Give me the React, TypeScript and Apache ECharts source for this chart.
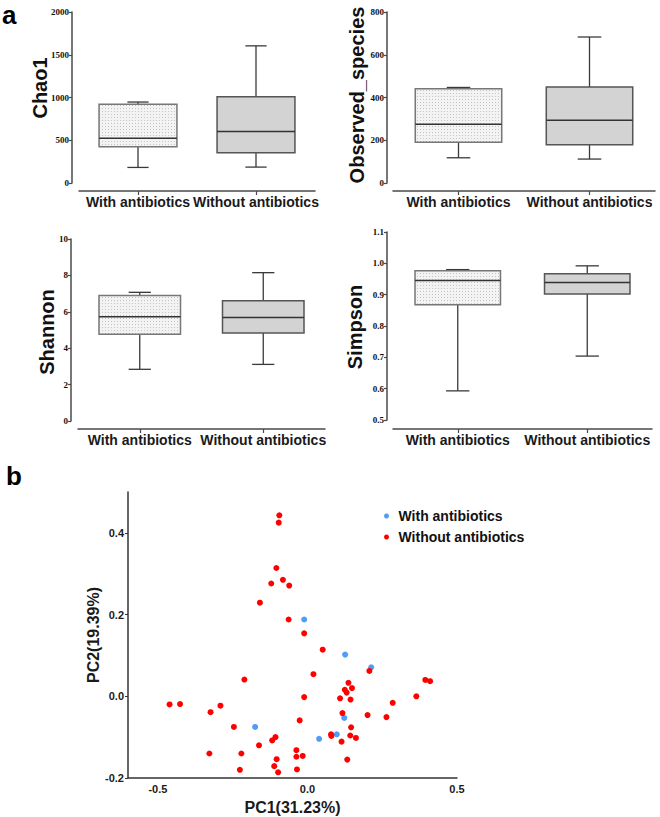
import React, { useEffect, useRef } from 'react';
import * as echarts from 'echarts';

const CATEGORIES = ['With antibiotics', 'Without antibiotics'];

// box statistics: [min, Q1, median, Q3, max]
const CHAO1_WITH = [182, 423, 524, 920, 947];
const CHAO1_WITHOUT = [186, 353, 602, 1010, 1604];
const OBS_WITH = [118, 191, 275, 441, 447];
const OBS_WITHOUT = [112, 179, 293, 449, 683];
const SHANNON_WITH = [2.84, 4.76, 5.73, 6.9, 7.07];
const SHANNON_WITHOUT = [3.11, 4.84, 5.68, 6.61, 8.15];
const SIMPSON_WITH = [0.593, 0.868, 0.945, 0.976, 0.98];
const SIMPSON_WITHOUT = [0.704, 0.902, 0.939, 0.967, 0.992];

const CHAO1_AXIS = [0, 2000, 500];
const OBS_AXIS = [0, 800, 200];
const SHANNON_AXIS = [0, 10, 2];
const SIMPSON_AXIS = [0.5, 1.1, 0.1];

// PCoA points [PC1, PC2]
const PCOA_WITH = [
  [-0.011, 0.188], [0.126, 0.102], [0.213, 0.071], [0.123, -0.053],
  [-0.175, -0.075], [0.039, -0.104], [0.098, -0.093],
];
const PCOA_WITHOUT = [
  [-0.094, 0.443], [-0.096, 0.425], [-0.104, 0.314], [-0.121, 0.276], [-0.082, 0.285],
  [-0.061, 0.271], [-0.159, 0.229], [-0.063, 0.188], [-0.011, 0.154], [0.051, 0.114],
  [0.207, 0.062], [0.02, 0.054], [-0.211, 0.041], [0.394, 0.04], [0.41, 0.037],
  [0.137, 0.033], [0.125, 0.016], [0.149, 0.02], [0.131, 0.009], [0.364, 0.0],
  [-0.011, -0.002], [0.109, -0.005], [0.144, -0.008], [0.285, -0.016], [-0.461, -0.02],
  [-0.426, -0.019], [-0.291, -0.023], [-0.324, -0.039], [0.117, -0.041], [0.201, -0.046],
  [0.264, -0.051], [-0.026, -0.059], [-0.246, -0.075], [0.146, -0.076], [0.079, -0.093],
  [0.08, -0.097], [0.143, -0.096], [0.162, -0.102], [-0.107, -0.1], [-0.118, -0.108],
  [0.114, -0.111], [-0.162, -0.12], [-0.037, -0.132], [-0.328, -0.14], [-0.221, -0.14],
  [-0.037, -0.148], [-0.016, -0.146], [-0.103, -0.154], [0.133, -0.155], [-0.111, -0.171],
  [-0.226, -0.18], [-0.035, -0.179], [-0.098, -0.186],
];
const PC1_TICKS = [-0.5, 0, 0.5];
const PC2_TICKS = [-0.2, 0, 0.2, 0.4];
const PC1_RANGE = [-0.6, 0.5];
const PC2_RANGE = [-0.2, 0.5];

const SANS = '"Liberation Sans", Arial, sans-serif';
const SERIF = '"Liberation Serif", "Times New Roman", serif';

export default function App() {
  const ref = useRef<HTMLDivElement>(null);

  useEffect(() => {
    if (!ref.current) return;
    const chart = echarts.init(ref.current, undefined, { renderer: 'svg' });

    const cv = document.createElement('canvas');
    cv.width = 3;
    cv.height = 3;
    const ctx = cv.getContext('2d');
    if (ctx) {
      ctx.fillStyle = '#f3f3f3';
      ctx.fillRect(0, 0, 3, 3);
      ctx.fillStyle = '#c4c4c4';
      ctx.fillRect(0, 0, 1, 1);
    }
    const patternFill: any = { image: cv, repeat: 'repeat', imageWidth: 3, imageHeight: 3 };

    const renderBox = (params: any, api: any) => {
      const ci = api.value(0);
      const v = [api.value(1), api.value(2), api.value(3), api.value(4), api.value(5)];
      const band = api.size([1, 0])[0];
      const half = band * 0.33;
      const cap = band * 0.09;
      const p = v.map((val: number) => api.coord([ci, val]));
      const cx = p[0][0];
      const isWith = ci === 0;
      const wStyle = { stroke: '#3a3a3a', lineWidth: 1.3 };
      return {
        type: 'group',
        children: [
          { type: 'line', shape: { x1: cx, y1: p[0][1], x2: cx, y2: p[1][1] }, style: wStyle },
          { type: 'line', shape: { x1: cx, y1: p[3][1], x2: cx, y2: p[4][1] }, style: wStyle },
          { type: 'line', shape: { x1: cx - cap, y1: p[0][1], x2: cx + cap, y2: p[0][1] }, style: wStyle },
          { type: 'line', shape: { x1: cx - cap, y1: p[4][1], x2: cx + cap, y2: p[4][1] }, style: wStyle },
          {
            type: 'rect',
            shape: { x: cx - half, y: p[3][1], width: half * 2, height: p[1][1] - p[3][1] },
            style: { fill: isWith ? patternFill : '#d3d3d3', stroke: isWith ? '#777' : '#555', lineWidth: 1.5 },
          },
          { type: 'line', shape: { x1: cx - half, y1: p[2][1], x2: cx + half, y2: p[2][1] }, style: { stroke: '#333', lineWidth: 1.5 } },
        ],
      };
    };

    const panels = [
      { grid: { left: 79, right: 345, top: 12, bottom: 634 }, yOff: 7, xOff: 8, axis: CHAO1_AXIS, a: CHAO1_WITH, b: CHAO1_WITHOUT, dec: 0 },
      { grid: { left: 393, right: 5, top: 12, bottom: 634 }, yOff: 6, xOff: 8, axis: OBS_AXIS, a: OBS_WITH, b: OBS_WITHOUT, dec: 0 },
      { grid: { left: 78, right: 335, top: 239, bottom: 396 }, yOff: 7, xOff: 8, axis: SHANNON_AXIS, a: SHANNON_WITH, b: SHANNON_WITHOUT, dec: 0 },
      { grid: { left: 393, right: 8, top: 232, bottom: 397 }, yOff: 6, xOff: 9, axis: SIMPSON_AXIS, a: SIMPSON_WITH, b: SIMPSON_WITHOUT, dec: 1 },
    ];

    const axisColor = '#4a4a4a';
    const grids: any[] = panels.map((p) => ({ ...p.grid, containLabel: false }));
    const xAxes: any[] = panels.map((p, i) => ({
      type: 'category',
      gridIndex: i,
      data: CATEGORIES,
      offset: p.xOff,
      axisLine: { onZero: false, lineStyle: { color: axisColor, width: 1.5 } },
      axisTick: { show: true, alignWithLabel: true, length: 4, lineStyle: { color: axisColor, width: 1.2 } },
      axisLabel: { interval: 0, margin: 4, color: '#1a1a1a', fontFamily: SANS, fontWeight: 'bold', fontSize: 14 },
      splitLine: { show: false },
    }));
    const yAxes: any[] = panels.map((p, i) => ({
      type: 'value',
      gridIndex: i,
      min: p.axis[0],
      max: p.axis[1],
      interval: p.axis[2],
      offset: p.yOff,
      axisLine: { show: true, onZero: false, lineStyle: { color: axisColor, width: 1.5 } },
      axisTick: { show: true, length: 3, lineStyle: { color: axisColor, width: 1.2 } },
      axisLabel: {
        margin: 3,
        color: '#111',
        fontFamily: SERIF,
        fontWeight: 'bold',
        fontSize: 9,
        formatter: (v: number) => v.toFixed(p.dec),
      },
      splitLine: { show: false },
    }));
    const series: any[] = panels.map((p, i) => ({
      type: 'custom',
      coordinateSystem: 'cartesian2d',
      xAxisIndex: i,
      yAxisIndex: i,
      renderItem: renderBox,
      encode: { x: 0, y: [1, 2, 3, 4, 5] },
      data: [[0, ...p.a], [1, ...p.b]],
      silent: true,
    }));

    // PCoA panel
    grids.push({ left: 128, right: 203, top: 492, bottom: 39 });
    xAxes.push({
      type: 'value',
      gridIndex: 4,
      min: PC1_RANGE[0],
      max: PC1_RANGE[1],
      name: 'PC1(31.23%)',
      nameLocation: 'middle',
      nameGap: 21,
      nameTextStyle: { fontFamily: SANS, fontWeight: 'bold', fontSize: 16, color: '#1a1a1a', verticalAlign: 'top' },
      axisLine: { onZero: false, lineStyle: { color: '#333', width: 1.5 } },
      axisTick: { show: false },
      axisLabel: {
        customValues: PC1_TICKS,
        margin: 5,
        color: '#1a1a1a',
        fontFamily: SANS,
        fontWeight: 'bold',
        fontSize: 11,
        formatter: (v: number) => v.toFixed(1),
      },
      splitLine: { show: false },
    });
    yAxes.push({
      type: 'value',
      gridIndex: 4,
      min: PC2_RANGE[0],
      max: PC2_RANGE[1],
      name: 'PC2(19.39%)',
      nameLocation: 'middle',
      nameGap: 24,
      nameTextStyle: { fontFamily: SANS, fontWeight: 'bold', fontSize: 16, color: '#1a1a1a' },
      axisLine: { onZero: false, lineStyle: { color: '#333', width: 1.5 } },
      axisTick: { show: true, customValues: PC2_TICKS, length: 3, lineStyle: { color: '#333' } },
      axisLabel: {
        customValues: PC2_TICKS,
        margin: 4,
        color: '#1a1a1a',
        fontFamily: SANS,
        fontWeight: 'bold',
        fontSize: 11,
        formatter: (v: number) => v.toFixed(1),
      },
      splitLine: { show: false },
    });
    series.push(
      {
        name: 'With antibiotics',
        type: 'scatter',
        xAxisIndex: 4,
        yAxisIndex: 4,
        data: PCOA_WITH,
        symbolSize: 6,
        itemStyle: { color: '#4f9df5', opacity: 1 },
      },
      {
        name: 'Without antibiotics',
        type: 'scatter',
        xAxisIndex: 4,
        yAxisIndex: 4,
        data: PCOA_WITHOUT,
        symbolSize: 6,
        itemStyle: { color: '#ff0000', opacity: 1 },
      }
    );

    const nameFont = `bold 20px ${SANS}`;
    const rotName = (text: string, x: number, y: number) => ({
      type: 'text',
      x,
      y,
      rotation: Math.PI / 2,
      style: { text, font: nameFont, fill: '#111', align: 'center', verticalAlign: 'middle' },
    });

    chart.setOption({
      animation: false,
      backgroundColor: '#ffffff',
      grid: grids,
      xAxis: xAxes,
      yAxis: yAxes,
      series,
      legend: {
        data: ['With antibiotics', 'Without antibiotics'],
        orient: 'vertical',
        left: 379,
        top: 504,
        icon: 'circle',
        itemWidth: 14,
        itemHeight: 5,
        itemGap: 7,
        textStyle: { fontFamily: SANS, fontWeight: 'bold', fontSize: 14, color: '#111', lineHeight: 14 },
      },
      graphic: [
        { type: 'text', x: 2, y: 15, style: { text: 'a', font: `bold 26px ${SANS}`, fill: '#000', verticalAlign: 'middle' } },
        { type: 'text', x: 6, y: 476, style: { text: 'b', font: `bold 26px ${SANS}`, fill: '#000', verticalAlign: 'middle' } },
        rotName('Chao1', 40, 88),
        rotName('Observed_species', 357, 95),
        rotName('Shannon', 47, 332),
        rotName('Simpson', 355, 327),
      ],
    });

    return () => chart.dispose();
  }, []);

  return (
    <div
      ref={ref}
      style={{ position: 'fixed', left: 0, top: 0, width: 660, height: 817, background: '#fff' }}
    />
  );
}
